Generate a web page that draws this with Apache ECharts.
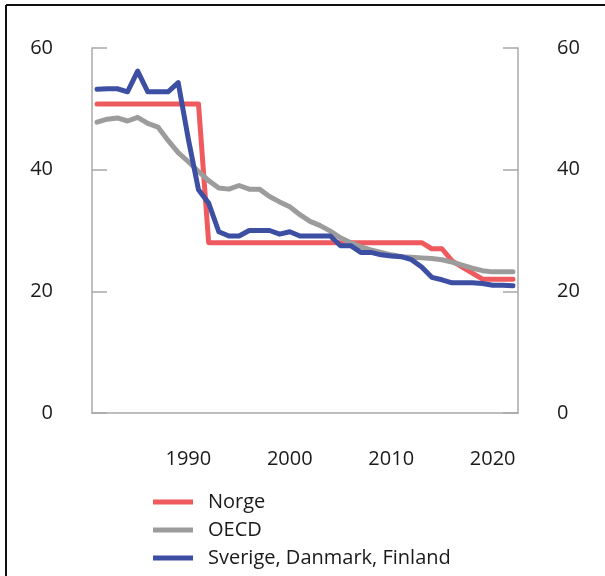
<!DOCTYPE html>
<html>
<head>
<meta charset="utf-8">
<script src="https://cdn.jsdelivr.net/npm/echarts@6/dist/echarts.min.js"></script>
<style>
html,body{margin:0;padding:0;background:#fff;}
#chart{width:605px;height:576px;}
</style>
</head>
<body>
<div id="chart"></div>
<script>
const years = [];
for (let y = 1981; y <= 2022; y++) years.push(String(y));

const norge = [
  50.8, 50.8, 50.8, 50.8, 50.8, 50.8, 50.8, 50.8, 50.8, 50.8, 50.8,
  28, 28, 28, 28, 28, 28, 28, 28, 28, 28,
  28, 28, 28, 28, 28, 28, 28, 28, 28, 28,
  28, 28, 27, 27, 25, 24, 23, 22, 22, 22, 22
];

const oecd = [
  47.8, 48.3, 48.5, 48.0, 48.6, 47.6, 47.0, 44.8, 42.8, 41.3,
  39.7, 38.2, 37.0, 36.8, 37.4, 36.8, 36.8, 35.6, 34.7, 33.9,
  32.6, 31.5, 30.8, 29.9, 28.8, 28.0, 27.3, 26.8, 26.4, 26.0,
  25.7, 25.6, 25.5, 25.4, 25.2, 24.8, 24.3, 23.8, 23.4, 23.2,
  23.2, 23.2
];

const nordic = [
  53.2, 53.3, 53.3, 52.8, 56.2, 52.8, 52.8, 52.8, 54.3, 45.0,
  36.7, 34.5, 29.8, 29.1, 29.1, 30.0, 30.0, 30.0, 29.4, 29.8,
  29.1, 29.1, 29.1, 29.1, 27.5, 27.5, 26.4, 26.4, 26.0, 25.8,
  25.7, 25.2, 24.0, 22.3, 21.9, 21.4, 21.4, 21.4, 21.3, 21.0,
  21.0, 20.9
];

const seriesNames = ['Norge', 'OECD', 'Sverige, Danmark, Finland'];
const seriesColors = ['#ef5a5f', '#9c9c9c', '#3d4fa3'];
const yTicks = { min: 0, max: 60, interval: 20 };

const font = '"Open Sans", "Noto Sans", sans-serif';
const axisGray = '#a8a8a8';
const textColor = '#1a1a1a';

const chart = echarts.init(document.getElementById('chart'), null, { renderer: 'canvas' });

function yAxisCfg(pos) {
  return {
    type: 'value',
    position: pos,
    min: yTicks.min, max: yTicks.max, interval: yTicks.interval,
    axisLine: { show: true, lineStyle: { color: axisGray, width: 1.5 } },
    axisTick: { show: true, inside: true, length: 15, lineStyle: { color: axisGray, width: 1.5 } },
    axisLabel: { margin: 39, color: textColor, fontSize: 20, fontFamily: font },
    splitLine: { show: false }
  };
}

const data = [norge, oecd, nordic];

chart.setOption({
  animation: false,
  backgroundColor: '#fff',
  grid: { left: 92, right: 87, top: 48, bottom: 163, containLabel: false },
  xAxis: {
    type: 'category',
    data: years,
    boundaryGap: true,
    axisLine: { show: true, lineStyle: { color: axisGray, width: 1.5 } },
    axisTick: { show: false },
    axisLabel: {
      margin: 36,
      color: textColor, fontSize: 20, fontFamily: font,
      interval: function (i, v) { return Number(v) % 10 === 0; }
    },
    splitLine: { show: false }
  },
  yAxis: [yAxisCfg('left'), yAxisCfg('right')],
  legend: {
    orient: 'vertical',
    left: 148,
    top: 487,
    icon: 'rect',
    itemWidth: 40,
    itemHeight: 5,
    itemGap: 8,
    textStyle: { color: textColor, fontSize: 20, fontFamily: font, lineHeight: 20, padding: [0, 0, 0, 10] },
    data: seriesNames
  },
  series: seriesNames.map((n, i) => ({
    name: n,
    type: 'line',
    data: data[i],
    yAxisIndex: 0,
    showSymbol: false,
    symbol: 'none',
    color: seriesColors[i],
    lineStyle: { width: 5, color: seriesColors[i], cap: 'round', join: 'round' },
    z: 2 + i
  })),
  graphic: [
    { type: 'line', shape: { x1: 6, y1: 5, x2: 605, y2: 5 }, style: { stroke: '#111', lineWidth: 2 } },
    { type: 'line', shape: { x1: 6, y1: 5, x2: 6, y2: 576 }, style: { stroke: '#111', lineWidth: 2 } }
  ]
});
</script>
</body>
</html>
